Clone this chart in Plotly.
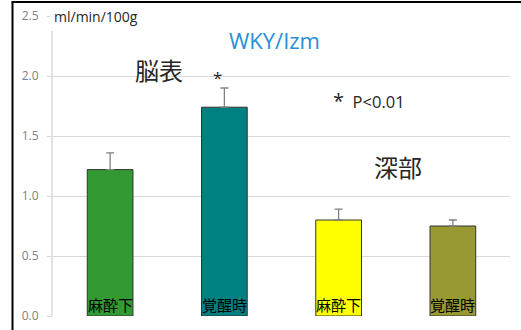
import plotly.graph_objects as go

# Cerebral blood flow (ml/min/100g), WKY/Izm rats
groups = ["脳表・麻酔下", "脳表・覚醒時", "深部・麻酔下", "深部・覚醒時"]
state_labels = ["麻酔下", "覚醒時", "麻酔下", "覚醒時"]
flow_mean = [1.22, 1.74, 0.80, 0.75]
flow_err = [0.14, 0.16, 0.09, 0.05]
bar_colors = ["#339933", "#008080", "#FFFF00", "#999933"]
y_ticks = [0.0, 0.5, 1.0, 1.5, 2.0, 2.5]

W, H = 521, 330
ML, MR, MT, MB = 53, 11, 16, 14
PW, PH = W - ML - MR, H - MT - MB


def px_x(p):
    return (p - ML) / PW


def px_y(p):
    return (H - MB - p) / PH


CJK = "Noto Sans CJK JP"
LAT = "Open Sans"

fig = go.Figure()
fig.add_trace(go.Bar(
    x=groups,
    y=flow_mean,
    marker=dict(color=bar_colors, line=dict(color="#333333", width=1)),
    width=0.4,
    error_y=dict(type="data", symmetric=False, array=flow_err,
                 arrayminus=[0] * len(flow_err),
                 color="#808080", thickness=1.3, width=4),
    hoverinfo="skip",
))

# state labels at the foot of each bar
for g, lab in zip(groups, state_labels):
    fig.add_annotation(x=g, y=0, xref="x", yref="y", text=lab, showarrow=False,
                       yanchor="bottom", yshift=-1,
                       font=dict(family=CJK, size=15, color="#000000"))

annots = [
    dict(text="ml/min/100g&nbsp;", x=px_x(50), y=1.0, xanchor="left", yanchor="middle",
         font=dict(family=LAT, size=14, color="#262626"), bgcolor="white",
         borderpad=3),
    dict(text="WKY/Izm", x=px_x(274), y=px_y(40), xanchor="center", yanchor="middle",
         font=dict(family=LAT, size=22, color="#2a8fd4")),
    dict(text="脳表", x=px_x(158.5), y=px_y(69), xanchor="center", yanchor="middle",
         font=dict(family=CJK, size=24, color="#262626")),
    dict(text="*", x=px_x(217), y=px_y(77), xanchor="center", yanchor="middle",
         font=dict(family=LAT, size=17, color="#262626")),
    dict(text="<span style='font-size:20px'>*</span>&nbsp; P<0.01", x=px_x(331), y=px_y(100),
         xanchor="left", yanchor="middle",
         font=dict(family=LAT, size=16.5, color="#262626")),
    dict(text="深部", x=px_x(397.5), y=px_y(166), xanchor="center", yanchor="middle",
         font=dict(family=CJK, size=24, color="#262626")),
]
for a in annots:
    fig.add_annotation(xref="paper", yref="paper", showarrow=False, **a)

shapes = [
    # value axis line
    dict(type="line", xref="paper", yref="paper", x0=px_x(52), x1=px_x(52),
         y0=0, y1=px_y(31), line=dict(color="#c8c8c8", width=1)),
    # frame on the left and top
    dict(type="line", xref="paper", yref="paper", x0=px_x(12.5), x1=px_x(12.5),
         y0=px_y(2), y1=px_y(331), line=dict(color="#000000", width=2)),
    dict(type="line", xref="paper", yref="paper", x0=px_x(11.5), x1=px_x(522),
         y0=px_y(2), y1=px_y(2), line=dict(color="#000000", width=2)),
]

fig.update_layout(
    width=W, height=H,
    margin=dict(l=ML, r=MR, t=MT, b=MB, pad=0, autoexpand=False),
    paper_bgcolor="white", plot_bgcolor="white",
    showlegend=False,
    bargap=0.6,
    shapes=shapes,
    xaxis=dict(range=[-0.5, 3.5], showticklabels=False, showgrid=False,
               zeroline=False, showline=False, ticks="", automargin=False),
    yaxis=dict(range=[0, 2.5], tickvals=y_ticks, ticktext=[f"{v:.1f}" for v in y_ticks],
               showgrid=True, gridcolor="#d9d9d9", gridwidth=1,
               zeroline=False, showline=False, automargin=False,
               ticks="outside", ticklen=5, tickcolor="#d9d9d9",
               ticklabelstandoff=6,
               tickfont=dict(family=LAT, size=12, color="#808080")),
)

fig.write_html("out.html")
